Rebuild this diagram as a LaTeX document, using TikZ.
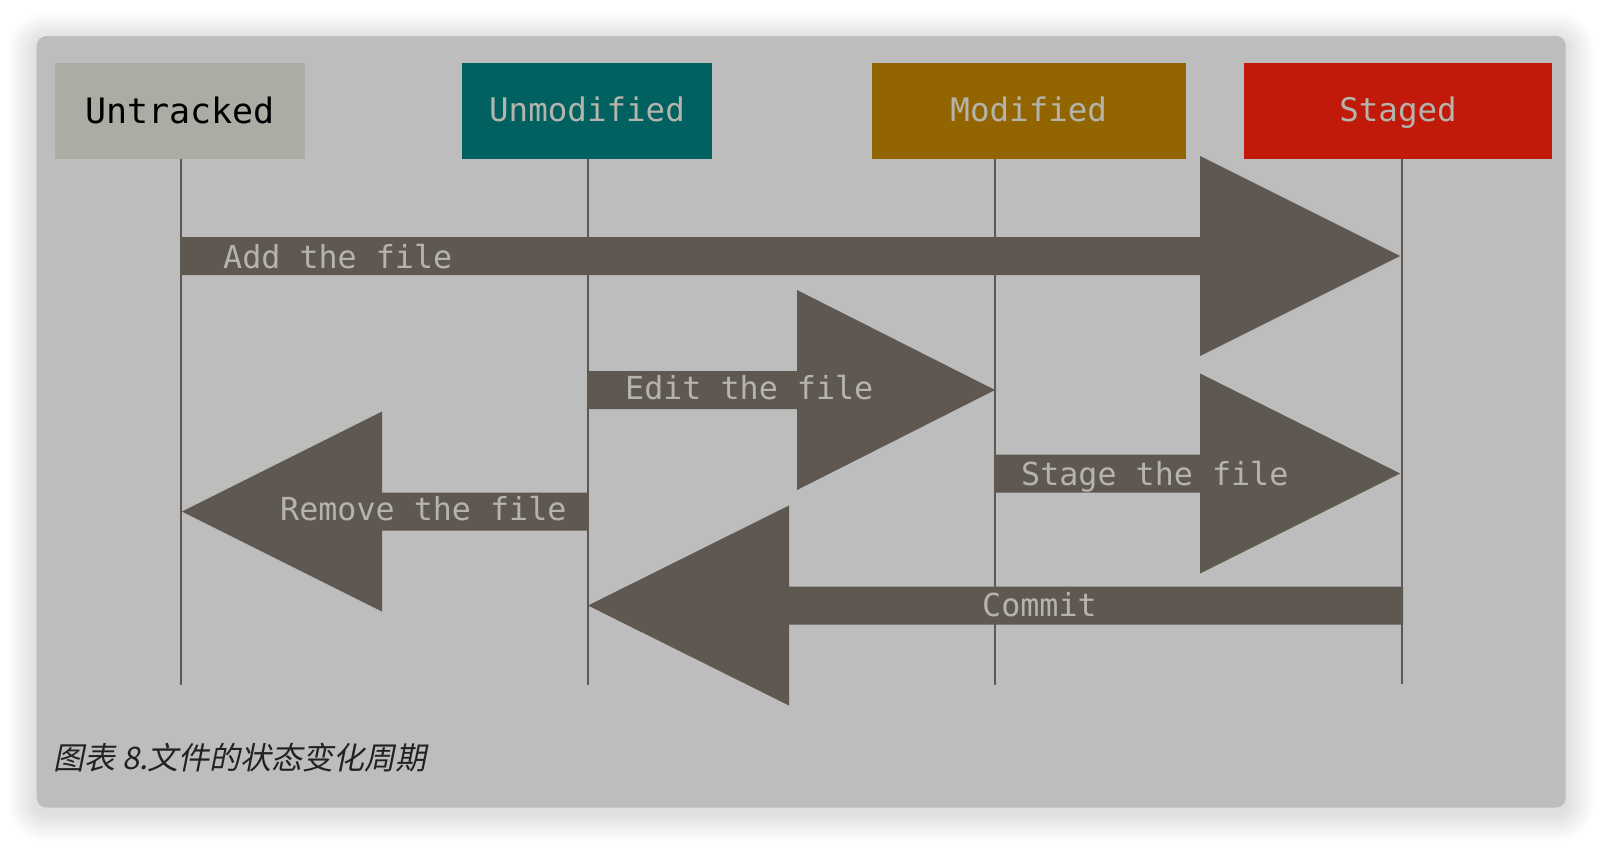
\documentclass[tikz,border=0pt]{standalone}
\usepackage{fontspec}
\newfontfamily\labelmono{DejaVu Sans Mono}
\newfontfamily\cjk[FakeSlant=0.2]{Noto Sans CJK SC}
\definecolor{cardbg}{HTML}{BDBDBD}
\definecolor{untrackedfill}{HTML}{ACACA4}
\definecolor{unmodfill}{HTML}{006160}
\definecolor{modfill}{HTML}{936500}
\definecolor{stagedfill}{HTML}{C21A0A}
\definecolor{arrowfill}{HTML}{5F5851}
\definecolor{lighttext}{HTML}{B4B4AC}
\definecolor{captext}{HTML}{222222}
\newcommand\myblockarrow[4]{%
  \fill[arrowfill] (#1,#4-19) -- (#2,#4-19) -- (#2,#4-100) -- (#3,#4)
    -- (#2,#4+100) -- (#2,#4+19) -- (#1,#4+19) -- cycle;}
\begin{document}
\begin{tikzpicture}[x=1pt,y=-1pt,
  statebox/.style={inner sep=0pt, minimum height=96pt, text=lighttext,
    text height=26pt, text depth=5pt,
    font=\labelmono\fontsize{32.5}{36}\selectfont},
  lifeline/.style={draw=arrowfill, line width=2pt},
  arrowlabel/.style={anchor=base west, inner sep=0pt, text=lighttext,
    font=\labelmono\fontsize{31.7}{36}\selectfont}]
\useasboundingbox (0,0) rectangle (1602,844);
\fill[white] (0,0) rectangle (1602,844);
% soft shadow
\foreach \i in {1,...,16}{
  \pgfmathsetmacro\rr{10+\i*1.8}
  \fill[black, opacity=0.009, rounded corners=\rr pt]
    (36.7-\i*1.8, 36-\i*1.8+5) rectangle (1565.7+\i*1.8, 807.7+\i*1.8+5);
}
\fill[cardbg, rounded corners=10pt] (36.7,36) rectangle (1565.7,807.7);

% state boxes
\node[statebox, fill=untrackedfill, minimum width=250pt, text=black,
  text height=28pt, text depth=3pt,
  font=\labelmono\fontsize{35}{38}\selectfont] (untracked) at (180,111) {Untracked};
\node[statebox, fill=unmodfill, minimum width=250pt] (unmodified) at (587,111) {Unmodified};
\node[statebox, fill=modfill, minimum width=314.5pt] (modified) at (1028.75,111) {Modified};
\node[statebox, fill=stagedfill, minimum width=308pt] (staged) at (1398,111) {Staged};

% lifeline ends
\coordinate (endU) at (181,685);
\coordinate (endN) at (588,685);
\coordinate (endM) at (995,685);
\coordinate (endS) at (1402,684);
\draw[lifeline] (untracked.south -| endU) -- (endU);
\draw[lifeline] (unmodified.south -| endN) -- (endN);
\draw[lifeline] (modified.south -| endM) -- (endM);
\draw[lifeline] (staged.south -| endS) -- (endS);

% block arrows
\myblockarrow{181}{1200}{1400}{256}
\myblockarrow{588}{797}{995}{390}
\myblockarrow{996}{1200}{1400}{473.5}
\myblockarrow{588}{382}{182}{511.5}
\myblockarrow{1403}{789}{588}{605.5}

% arrow labels
\node[arrowlabel] (addlbl) at (223,268) {Add the file};
\node[arrowlabel] (editlbl) at (625,399) {Edit the file};
\node[arrowlabel] (stagelbl) at (1021,485.5) {Stage the file};
\node[arrowlabel] (removelbl) at (280,520) {Remove the file};
\node[arrowlabel] (commitlbl) at (982,616) {Commit};

% caption
\node[anchor=base west, inner sep=0pt, text=captext] (caption) at (53,769)
  {\cjk\fontsize{31}{34}\selectfont 图表 8.文件的状态变化周期};
\end{tikzpicture}
\end{document}
